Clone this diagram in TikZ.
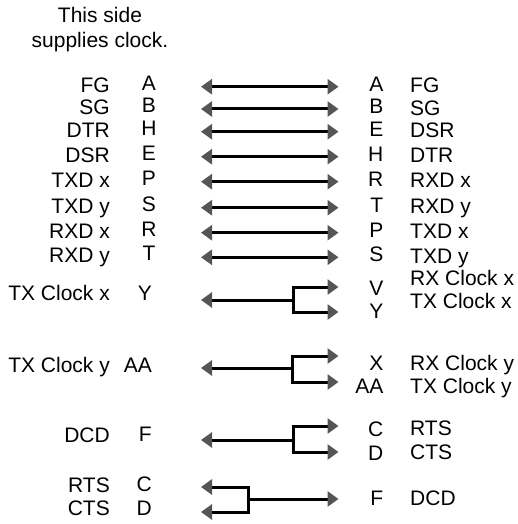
\documentclass[tikz,border=0pt]{standalone}
\usepackage{fontspec}
\setmainfont{Liberation Sans}
\usepackage{xcolor}
\usetikzlibrary{arrows.meta}
\definecolor{tipgray}{HTML}{555555}
\tikzset{
	gtip/.tip={Triangle[length=11pt,width=15pt,color=tipgray]},
	lbl/.style={inner sep=0pt, text height=15pt, text depth=0pt, font=\fontsize{21}{24}\selectfont},
	sigline/.style={line width=3pt, -gtip},
	sigback/.style={line width=3pt, gtip-},
	sigboth/.style={line width=3pt, gtip-gtip}
}

\begin{document}
\begin{tikzpicture}[x=1pt,y=-1pt]
		\useasboundingbox (0,0) rectangle (517,524);
		\node[anchor=north, align=center, inner sep=0pt, font=\fontsize{21}{24.5}\selectfont] (title) at (100,7.5) {This side\\supplies clock.};
		% straight pairs
		\foreach \n/\y/\ll/\la/\ra/\rl in {1/86.7/FG/A/A/FG, 2/109/SG/B/B/SG, 3/131.7/DTR/H/E/DSR, 4/156.7/DSR/E/H/DTR,
			5/181.7/TXD x/P/R/RXD x, 6/207.7/TXD y/S/T/RXD y, 7/232.7/RXD x/R/P/TXD x, 8/257.3/RXD y/T/S/TXD y}{
			\node[lbl,anchor=east] (ll\n) at (110,{\y-2}) {\ll};
			\node[lbl] (la\n) at (149,{\y-4}) {\la};
			\node[lbl,anchor=east] (ra\n) at (383.5,{\y-3}) {\ra};
			\node[lbl,anchor=west] (rl\n) at (410,{\y-1.5}) {\rl};
			\coordinate (a\n) at (201,\y);
			\coordinate (b\n) at (338.5,\y);
			\draw[sigboth] (a\n) -- (b\n);
		}
		% TX Clock x
		\node[lbl,anchor=east] (lc1) at (110,293) {TX Clock x};
		\node[lbl,anchor=east] (lY) at (152,293) {Y};
		\node[lbl,anchor=east] (rV) at (383.5,287.5) {V};
		\node[lbl,anchor=east] (rY) at (383.5,310.5) {Y};
		\node[lbl,anchor=west] (rc1) at (410,277.5) {RX Clock x};
		\node[lbl,anchor=west] (rc2) at (410,300.5) {TX Clock x};
		\coordinate (p1) at (201,300);
		\coordinate (j1) at (293,300);
		\coordinate (q1) at (338.5,287);
		\coordinate (s1) at (338.5,312);
		\draw[sigback] (p1) -- (j1);
		\draw[sigline] (j1) |- (q1);
		\draw[sigline] (j1) |- (s1);
		% TX Clock y
		\node[lbl,anchor=east] (lc2) at (110,365) {TX Clock y};
		\node[lbl,anchor=east] (lAA) at (152,365) {AA};
		\node[lbl,anchor=east] (rX) at (383.5,362.5) {X};
		\node[lbl,anchor=east] (rAA) at (383.5,386) {AA};
		\node[lbl,anchor=west] (rc3) at (410,362.5) {RX Clock y};
		\node[lbl,anchor=west] (rc4) at (410,386) {TX Clock y};
		\coordinate (p2) at (201,368);
		\coordinate (j2) at (292,368);
		\coordinate (q2) at (338.5,356);
		\coordinate (s2) at (338.5,382);
		\draw[sigback] (p2) -- (j2);
		\draw[sigline] (j2) |- (q2);
		\draw[sigline] (j2) |- (s2);
		% DCD
		\node[lbl,anchor=east] (ldcd) at (110,435) {DCD};
		\node[lbl,anchor=east] (lF) at (152,434) {F};
		\node[lbl,anchor=east] (rC) at (383.5,428.5) {C};
		\node[lbl,anchor=east] (rD) at (383.5,452.5) {D};
		\node[lbl,anchor=west] (rrts) at (410,428) {RTS};
		\node[lbl,anchor=west] (rcts) at (410,452) {CTS};
		\coordinate (p3) at (201,440);
		\coordinate (j3) at (293,440);
		\coordinate (q3) at (338.5,426);
		\coordinate (s3) at (338.5,452);
		\draw[sigback] (p3) -- (j3);
		\draw[sigline] (j3) |- (q3);
		\draw[sigline] (j3) |- (s3);
		% RTS / CTS
		\node[lbl,anchor=east] (lrts) at (110,485) {RTS};
		\node[lbl,anchor=east] (lcts) at (110,508) {CTS};
		\node[lbl,anchor=east] (lC) at (152,483.5) {C};
		\node[lbl,anchor=east] (lD) at (152,507.5) {D};
		\node[lbl,anchor=east] (rF) at (383.5,497.5) {F};
		\node[lbl,anchor=west] (rdcd) at (410,497.5) {DCD};
		\coordinate (q4) at (201,487);
		\coordinate (s4) at (201,512);
		\coordinate (j4) at (248,499);
		\coordinate (p4) at (338.5,499);
		\draw[sigline] (j4) -- (p4);
		\draw[sigline] (j4) |- (q4);
		\draw[sigline] (j4) |- (s4);
	\end{tikzpicture}
\end{document}
